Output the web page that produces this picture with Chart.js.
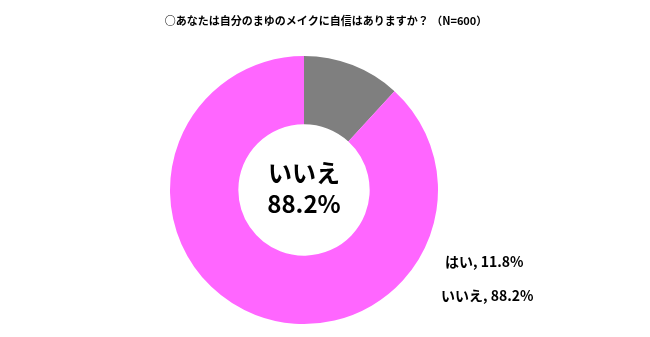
<!DOCTYPE html>
<html><head><meta charset="utf-8">
<script src="https://cdn.jsdelivr.net/npm/chart.js@4.4.0/dist/chart.umd.min.js"></script>
<style>html,body{margin:0;padding:0;background:#fff;}#wrap{width:650px;height:337px;position:relative;}</style>
</head><body><div id="wrap"><canvas id="c" width="650" height="337"></canvas></div>
<script>
const titleText = '○あなたは自分のまゆのメイクに自信はありますか？ （N=600）';
const categories = ['はい', 'いいえ'];
const values = [11.8, 88.2];
const colors = ['#7F7F7F', '#FF66FF'];
const centerIndex = 1;

const textPlugin = {
  id: 'texts',
  afterDraw(chart) {
    const ctx = chart.ctx;
    const meta = chart.getDatasetMeta(0);
    const arc = meta.data[0];
    const cx = arc.x, cy = arc.y;
    ctx.save();
    ctx.fillStyle = '#000';
    ctx.textBaseline = 'middle';
    // title
    ctx.textAlign = 'center';
    ctx.font = 'bold 11px "Noto Sans CJK JP"';
    ctx.fillText(titleText, 326, 21);
    // center
    ctx.font = 'bold 24px "Noto Sans CJK JP"';
    ctx.fillText(categories[centerIndex], cx, cy - 17);
    ctx.fillText(values[centerIndex].toFixed(1) + '%', cx, cy + 14);
    // side labels
    ctx.textAlign = 'left';
    ctx.font = 'bold 14px "Noto Sans CJK JP"';
    ctx.fillText(categories[0] + ', ' + values[0].toFixed(1) + '%', 445, 262);
    ctx.fillText(categories[1] + ', ' + values[1].toFixed(1) + '%', 441, 296);
    ctx.restore();
  }
};

new Chart(document.getElementById('c'), {
  type: 'doughnut',
  data: { labels: categories, datasets: [{ data: values, backgroundColor: colors, borderWidth: 0 }] },
  options: {
    responsive: false,
    animation: false,
    cutout: '49%',
    layout: { padding: { left: 170, right: 212, top: 56, bottom: 13 } },
    plugins: { legend: { display: false }, tooltip: { enabled: false }, title: { display: false } }
  },
  plugins: [textPlugin]
});
</script></body></html>
